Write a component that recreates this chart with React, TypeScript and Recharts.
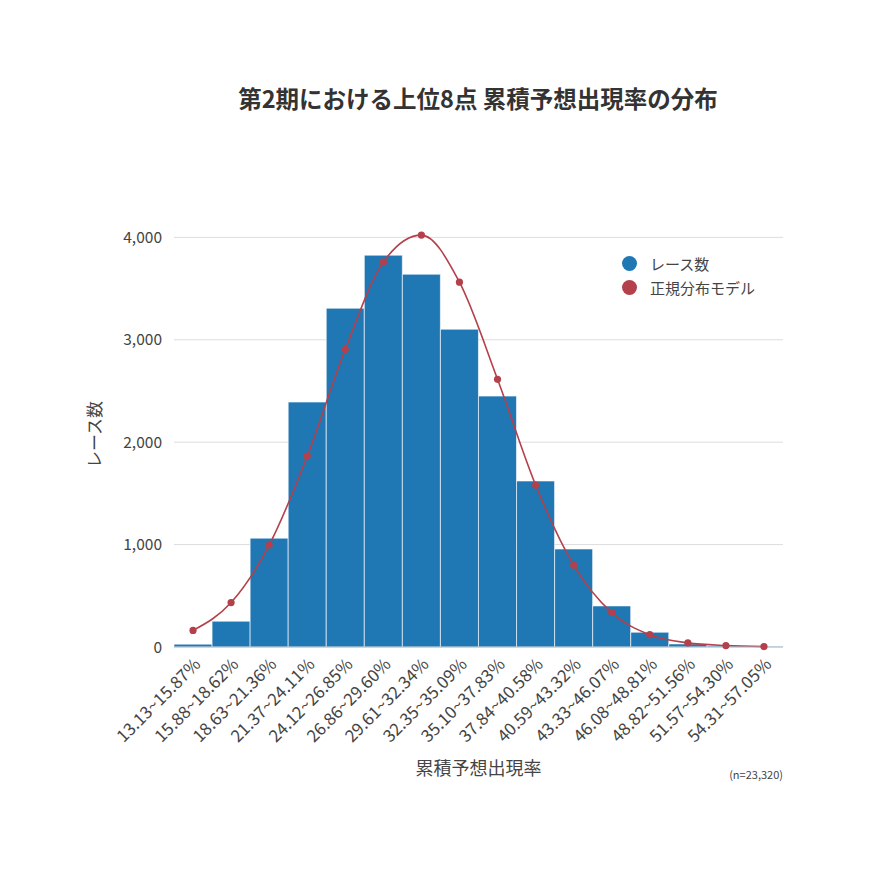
import {
  ComposedChart,
  Bar,
  Line,
  XAxis,
  YAxis,
  CartesianGrid,
  Label,
} from 'recharts'

const FONT = '"Noto Sans CJK JP", "Noto Sans", sans-serif'
const TEXT = '#444444'
const BLUE = '#1f77b4'
const RED  = '#b3404b'

const ranges = [
  '13.13~15.87%', '15.88~18.62%', '18.63~21.36%', '21.37~24.11%',
  '24.12~26.85%', '26.86~29.60%', '29.61~32.34%', '32.35~35.09%',
  '35.10~37.83%', '37.84~40.58%', '40.59~43.32%', '43.33~46.07%',
  '46.08~48.81%', '48.82~51.56%', '51.57~54.30%', '54.31~57.05%',
]

const raceCounts = [
  28, 252, 1063, 2392, 3308, 3826, 3640, 3103,
  2450, 1621, 957, 401, 144, 30, 10, 4,
]

const normalModel = [
  162, 434, 995, 1863, 2907, 3758, 4022, 3562,
  2614, 1582, 800, 336, 120, 40, 14, 4,
]

const yTicks = [0, 1000, 2000, 3000, 4000]

const legendItems = [
  { name: 'レース数', color: BLUE },
  { name: '正規分布モデル', color: RED },
]

const data = ranges.map((range, i) => ({
  range,
  count: raceCounts[i],
  model: normalModel[i],
}))

export default function App() {
  return (
    <div style={{ position: 'absolute', left: 0, top: 0, width: 870, height: 870, background: '#fff', fontFamily: FONT }}>
      <ComposedChart
        width={870}
        height={870}
        data={data}
        margin={{ top: 222, right: 87, left: 0, bottom: 93 }}
        barCategoryGap={0}
        barGap={0}
      >
        <CartesianGrid stroke="#dddddd" vertical={false} horizontalValues={yTicks} />
        <XAxis
          dataKey="range"
          interval={0}
          height={130}
          tickLine={false}
          axisLine={{ stroke: '#a9b9c9' }}
          tick={{ fill: TEXT, fontSize: 17, fontFamily: FONT, angle: -45, textAnchor: 'end' }}
          tickMargin={4}
        >
          <Label
            value="累積予想出現率"
            position="insideBottom"
            offset={2}
            style={{ fill: TEXT, fontSize: 18, fontFamily: FONT }}
          />
        </XAxis>
        <YAxis
          width={174}
          domain={[0, 4150]}
          ticks={yTicks}
          tickLine={false}
          axisLine={false}
          tickSize={0}
          tickMargin={12}
          tick={{ fill: TEXT, fontSize: 15.5, fontFamily: FONT }}
          tickFormatter={(v) => v.toLocaleString('en-US')}
        >
          <Label
            value="レース数"
            angle={-90}
            position="insideLeft"
            offset={95}
            style={{ fill: TEXT, fontSize: 17, fontFamily: FONT, textAnchor: 'middle' }}
          />
        </YAxis>
        <Bar
          dataKey="count"
          name="レース数"
          fill={BLUE}
          stroke="#ffffff"
          strokeWidth={0.6}
          isAnimationActive={false}
        />
        <Line
          type="monotone"
          dataKey="model"
          name="正規分布モデル"
          stroke={RED}
          strokeWidth={1.6}
          dot={{ r: 3.6, fill: RED, stroke: RED, strokeWidth: 0 }}
          activeDot={false}
          isAnimationActive={false}
        />
      </ComposedChart>

      {/* title, legend and sample note drawn over the chart */}
      <div style={{
        position: 'absolute', top: 81, left: 128, width: 700, textAlign: 'center',
        fontSize: 23.5, fontWeight: 700, color: '#333', fontFamily: FONT,
      }}>
        第2期における上位8点 累積予想出現率の分布
      </div>
      <div style={{ position: 'absolute', top: 251, left: 622, fontSize: 15, color: TEXT, fontFamily: FONT }}>
        {legendItems.map((it) => (
          <div key={it.name} style={{ display: 'flex', alignItems: 'center', height: 24 }}>
            <span style={{
              width: 15, height: 15, borderRadius: '50%',
              backgroundColor: it.color, marginRight: 13, display: 'inline-block',
            }} />
            {it.name}
          </div>
        ))}
      </div>
      <div style={{
        position: 'absolute', top: 766, right: 87, fontSize: 11, color: TEXT, fontFamily: FONT,
      }}>
        (n=23,320)
      </div>
    </div>
  )
}
